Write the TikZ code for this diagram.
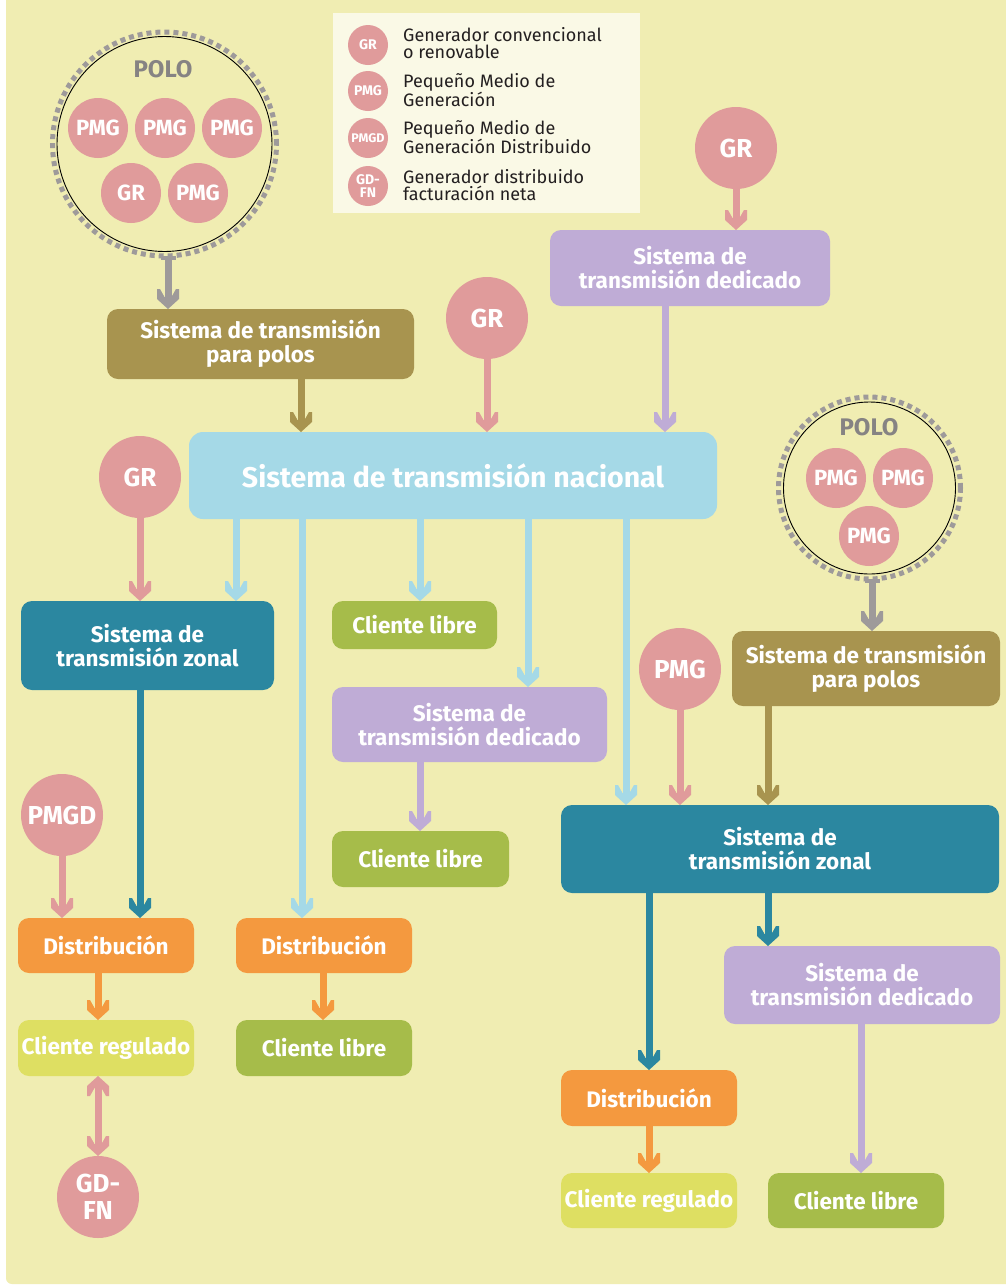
\documentclass[tikz,border=0pt]{standalone}
\usepackage{fontspec}
\setmainfont{Fira Sans}
\usetikzlibrary{arrows.meta}

\definecolor{fondo}{HTML}{F0EDB2}
\definecolor{crema}{HTML}{FAF9E6}
\definecolor{rosa}{HTML}{E09B9B}
\definecolor{oliva}{HTML}{A8944F}
\definecolor{lila}{HTML}{BFACD6}
\definecolor{celeste}{HTML}{A5D9E7}
\definecolor{petroleo}{HTML}{2B87A0}
\definecolor{verde}{HTML}{A6BC4A}
\definecolor{naranjo}{HTML}{F4993F}
\definecolor{limon}{HTML}{DEDF62}
\definecolor{gris}{HTML}{9E9A9A}
\definecolor{tinta}{HTML}{231F20}

% chevron-shaped arrow head
\pgfdeclarearrow{
  name = Chevron,
  setup code = {
    \pgfarrowssettipend{0pt}
    \pgfarrowssetlineend{-10pt}
    \pgfarrowssetbackend{-20pt}
    \pgfarrowssetvisualbackend{-20pt}
  },
  drawing code = {
    \pgfpathmoveto{\pgfqpoint{0pt}{0pt}}
    \pgfpathlineto{\pgfqpoint{-10pt}{11pt}}
    \pgfpathlineto{\pgfqpoint{-20pt}{11pt}}
    \pgfpathlineto{\pgfqpoint{-20pt}{8pt}}
    \pgfpathlineto{\pgfqpoint{-12pt}{3.5pt}}
    \pgfpathlineto{\pgfqpoint{-12pt}{-3.5pt}}
    \pgfpathlineto{\pgfqpoint{-20pt}{-8pt}}
    \pgfpathlineto{\pgfqpoint{-20pt}{-11pt}}
    \pgfpathlineto{\pgfqpoint{-10pt}{-11pt}}
    \pgfpathclose
    \pgfusepathqfill
  }
}
% flat bar at the start of the polo arrows
\pgfdeclarearrow{
  name = Tee,
  setup code = {
    \pgfarrowssettipend{0pt}
    \pgfarrowssetlineend{-2pt}
    \pgfarrowssetbackend{-4pt}
    \pgfarrowssetvisualbackend{-4pt}
  },
  drawing code = {
    \pgfpathrectangle{\pgfqpoint{-4pt}{-7.5pt}}{\pgfqpoint{4pt}{15pt}}
    \pgfusepathqfill
  }
}

\begin{document}
\begin{tikzpicture}[x=1pt, y=-1pt,
  caja/.style={rectangle, rounded corners=11pt, fill=#1, text=white, align=center,
    inner sep=0pt, outer sep=0pt, font=\bfseries\fontsize{22.5}{24}\selectfont},
  gen/.style={circle, fill=rosa, text=white, align=center, inner sep=0pt, outer sep=0pt,
    minimum size=82pt, font=\bfseries\fontsize{26}{27}\selectfont},
  genpolo/.style={gen, minimum size=60pt, font=\bfseries\fontsize{22}{23}\selectfont},
  genley/.style={gen, minimum size=40pt, font=\bfseries\fontsize{14}{13}\selectfont},
  anillo/.style={circle, draw=gris, line width=5pt, dash pattern=on 5pt off 4pt,
    inner sep=0pt, outer sep=0pt},
  borde/.style={circle, draw=black, line width=0.9pt, inner sep=0pt},
  polotxt/.style={text=gris!85!black, font=\bfseries\fontsize{24}{26}\selectfont},
  flujo/.style={line width=7pt, color=#1, -{Chevron}},
  ley/.style={anchor=west, align=left, inner sep=0pt, text=tinta, font=\fontsize{18}{17}\selectfont}
]

  \useasboundingbox (0,0) rectangle (1005,1286);
  \fill[white] (0,0) rectangle (1005,1286);
  \fill[fondo, rounded corners=6pt] (6,-20) rectangle (1030,1284);

  % legend
  \fill[crema] (333,13) rectangle (640,213);
  \node[genley] (lgr) at (368,45) {GR};
  \node[genley] (lpmg) at (368,91) {PMG};
  \node[genley, font=\bfseries\fontsize{12.5}{12}\selectfont] (lpmgd) at (368,138) {PMGD};
  \node[genley] (lgdfn) at (368,186) {GD-\\FN};
  \node[ley] (tgr) at (403,43) {Generador convencional\\o renovable};
  \node[ley] (tpmg) at (403,90) {Pequeño Medio de\\Generación};
  \node[ley] (tpmgd) at (403,137) {Pequeño Medio de\\Generación Distribuido};
  \node[ley] (tgdfn) at (403,185) {Generador distribuido\\facturación neta};

  % polo izquierdo
  \node[anillo, minimum size=224pt] (polo1) at (164.5,144) {};
  \node[borde, minimum size=215pt] (polo1b) at (polo1) {};
  \node[polotxt] (polo1t) at (163,69) {POLO};
  \node[genpolo] (p1a) at (98,128) {PMG};
  \node[genpolo] (p1b) at (165,128) {PMG};
  \node[genpolo] (p1c) at (232,128) {PMG};
  \node[genpolo] (p1d) at (131,193) {GR};
  \node[genpolo] (p1e) at (198,193) {PMG};

  % polo derecho
  \node[anillo, minimum size=182pt] (polo2) at (869.5,488) {};
  \node[borde, minimum size=172pt] (polo2b) at (polo2) {};
  \node[polotxt] (polo2t) at (869,427) {POLO};
  \node[genpolo] (p2a) at (836,478) {PMG};
  \node[genpolo] (p2b) at (903,478) {PMG};
  \node[genpolo] (p2c) at (869,536) {PMG};

  % generadores
  \node[gen] (grA) at (736,148) {GR};
  \node[gen] (grB) at (487,318) {GR};
  \node[gen] (grC) at (140,477) {GR};
  \node[gen] (pmgA) at (680,669) {PMG};
  \node[gen] (pmgd) at (62,815) {PMGD};
  \node[gen] (gdfn) at (98,1197) {GD-\\FN};

  % sistemas
  \node[caja=oliva, minimum width=307pt, minimum height=70pt] (pp1) at (260.5,344) {Sistema de transmisión\\para polos};
  \node[caja=lila, minimum width=280pt, minimum height=76pt] (ded1) at (690,268) {Sistema de\\transmisión dedicado};
  \node[caja=celeste, rounded corners=14pt, minimum width=528pt, minimum height=87pt,
    font=\bfseries\fontsize{28.5}{30}\selectfont] (nac) at (453,475.5) {Sistema de transmisión nacional};
  \node[caja=petroleo, minimum width=253pt, minimum height=89pt] (zon1) at (147.5,645.5) {Sistema de\\transmisión zonal};
  \node[caja=verde, minimum width=165pt, minimum height=48pt] (lib1) at (414.5,625) {Cliente libre};
  \node[caja=lila, minimum width=275pt, minimum height=75pt] (ded2) at (469.5,724.5) {Sistema de\\transmisión dedicado};
  \node[caja=verde, minimum width=177pt, minimum height=56pt] (lib2) at (420.5,859) {Cliente libre};
  \node[caja=naranjo, minimum width=176pt, minimum height=55pt] (dis1) at (106,945.5) {Distribución};
  \node[caja=limon, minimum width=176pt, minimum height=56pt] (reg1) at (106,1048) {Cliente regulado};
  \node[caja=naranjo, minimum width=176pt, minimum height=55pt] (dis2) at (324,945.5) {Distribución};
  \node[caja=verde, minimum width=176pt, minimum height=56pt] (lib3) at (324,1048) {Cliente libre};
  \node[caja=oliva, minimum width=268pt, minimum height=75pt] (pp2) at (866,668.5) {Sistema de transmisión\\para polos};
  \node[caja=petroleo, minimum width=438pt, minimum height=88pt] (zon2) at (780,849) {Sistema de\\transmisión zonal};
  \node[caja=lila, minimum width=276pt, minimum height=78pt] (ded3) at (862,985) {Sistema de\\transmisión dedicado};
  \node[caja=naranjo, minimum width=176pt, minimum height=56pt] (dis3) at (649,1098) {Distribución};
  \node[caja=limon, minimum width=176pt, minimum height=55pt] (reg2) at (649,1200.5) {Cliente regulado};
  \node[caja=verde, minimum width=176pt, minimum height=55pt] (lib4) at (856,1200.5) {Cliente libre};

  % flujos
  \draw[flujo=gris, {Tee}-{Chevron}] (168,0 |- polo1.south) -- (168,0 |- pp1.north);
  \draw[flujo=oliva] (301,0 |- pp1.south) -- (301,0 |- nac.north);
  \draw[flujo=rosa] (grB.south) -- (grB.south |- nac.north);
  \draw[flujo=rosa] (grA.south) -- (grA.south |- ded1.north);
  \draw[flujo=lila] (665,0 |- ded1.south) -- (665,0 |- nac.north);
  \draw[flujo=rosa] (grC.south) -- (grC.south |- zon1.north);

  \draw[flujo=celeste] (236,0 |- nac.south) -- (236,0 |- zon1.north);
  \draw[flujo=celeste] (302,0 |- nac.south) -- (302,0 |- dis2.north);
  \draw[flujo=celeste] (420,0 |- nac.south) -- (420,0 |- lib1.north);
  \draw[flujo=celeste] (528,0 |- nac.south) -- (528,0 |- ded2.north);
  \draw[flujo=celeste] (626,0 |- nac.south) -- (626,0 |- zon2.north);

  \draw[flujo=petroleo] (140,0 |- zon1.south) -- (140,0 |- dis1.north);
  \draw[flujo=rosa] (pmgd.south) -- (pmgd.south |- dis1.north);
  \draw[flujo=naranjo] (98,0 |- dis1.south) -- (98,0 |- reg1.north);
  \draw[flujo=rosa, {Chevron}-{Chevron}] (98,0 |- reg1.south) -- (gdfn.north);
  \draw[flujo=naranjo] (323,0 |- dis2.south) -- (323,0 |- lib3.north);
  \draw[flujo=lila] (420,0 |- ded2.south) -- (420,0 |- lib2.north);

  \draw[flujo=gris, {Tee}-{Chevron}] (872,0 |- polo2.south) -- (872,0 |- pp2.north);
  \draw[flujo=oliva] (768,0 |- pp2.south) -- (768,0 |- zon2.north);
  \draw[flujo=rosa] (pmgA.south) -- (pmgA.south |- zon2.north);
  \draw[flujo=petroleo] (649,0 |- zon2.south) -- (649,0 |- dis3.north);
  \draw[flujo=petroleo] (768,0 |- zon2.south) -- (768,0 |- ded3.north);
  \draw[flujo=lila] (861,0 |- ded3.south) -- (861,0 |- lib4.north);
  \draw[flujo=naranjo] (649,0 |- dis3.south) -- (649,0 |- reg2.north);

\end{tikzpicture}
\end{document}
